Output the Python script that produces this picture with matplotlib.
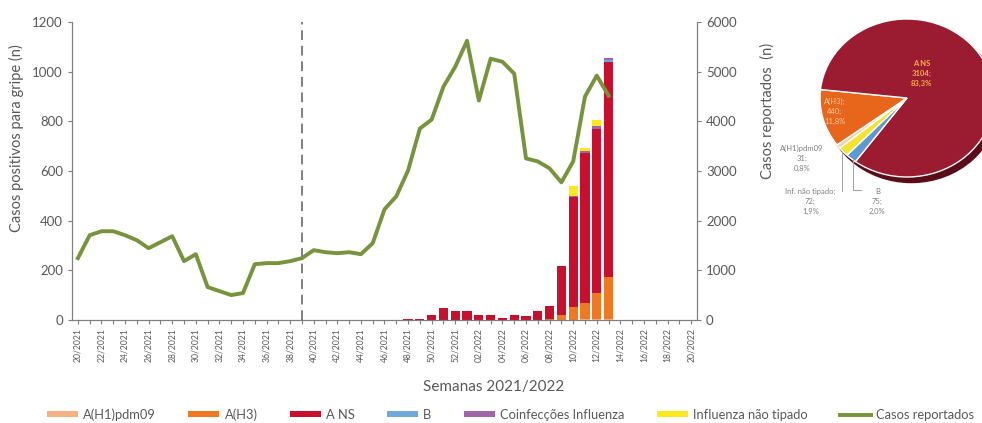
import matplotlib
matplotlib.use('Agg')
import matplotlib.pyplot as plt
from matplotlib.patches import Patch, Ellipse
from matplotlib.lines import Line2D
import numpy as np

plt.rcParams['font.family'] = ['Lato', 'DejaVu Sans']

# semanas 20/2021 .. 20/2022
semanas = ['%02d/2021' % w for w in range(20, 53)] + ['%02d/2022' % w for w in range(1, 21)]

# casos reportados (eixo da direita), ate 13/2022
casos = [1245, 1707, 1787, 1787, 1707, 1606, 1446, 1566, 1687, 1185,
         1325, 663, 582, 502, 542, 1124, 1145, 1145, 1185, 1245,
         1406, 1365, 1345, 1365, 1325, 1546, 2229, 2490, 3012, 3855,
         4036, 4699, 5100, 5622, 4418, 5261, 5200, 4960, 3253, 3193,
         3052, 2771, 3193, 4498, 4920, 4518]

n = len(semanas)
z = [0] * n

h1 = list(z)
h1[42:46] = [2, 3, 3, 5]
h3 = list(z)
h3[39:46] = [2, 3, 21, 52, 67, 104, 170]
ans = list(z)
ans[26:46] = [1, 2, 3, 5, 20, 50, 37, 37, 20, 20, 10, 19, 15, 35, 54, 195, 440, 604, 664, 863]
b = list(z)
b[45] = 10
coinf = list(z)
coinf[42:46] = [4, 5, 10, 6]
inf_nt = list(z)
inf_nt[41:45] = [1, 43, 15, 23]

series = [
    ('A(H1)pdm09', h1, '#F4B183'),
    ('A(H3)', h3, '#F07820'),
    ('A NS', ans, '#C8102E'),
    ('B', b, '#6FA8DC'),
    ('Coinfecções Influenza', coinf, '#A064A8'),
    ('Influenza não tipado', inf_nt, '#FFE81A'),
]

# pie
pie_vals = [31, 440, 3104, 75, 72]
pie_cols = ['#F8CBAD', '#E8661C', '#9B1B30', '#5B9BD5', '#F2E530']
pie_txt = ['A(H1)pdm09\n31;\n0,8%', 'A(H3);\n440;\n11,8%', 'A NS\n3104;\n83,3%',
           'B\n75;\n2,0%', 'Inf. não tipado;\n72;\n1,9%']

W, H = 982, 423
fig = plt.figure(figsize=(W / 100, H / 100), dpi=100)
ax = fig.add_axes([72 / W, 1 - 320 / H, 625 / W, 298 / H])
ax2 = ax.twinx()

x = np.arange(n)
bottom = np.zeros(n)
for name, vals, col in series:
    ax.bar(x, vals, width=0.78, bottom=bottom, color=col, zorder=2)
    bottom += np.array(vals)

ax2.plot(np.arange(len(casos)), casos, color='#77933C', lw=2.8, zorder=3, solid_joinstyle='round')
ax.axvline(19, color='#7F7F7F', lw=1.4, ls=(0, (5, 3)), zorder=1)

ax.set_xlim(-0.5, n - 0.5)
ax.set_ylim(0, 1200)
ax2.set_ylim(0, 6000)
ax.set_yticks(range(0, 1201, 200))
ax2.set_yticks(range(0, 6001, 1000))
ax.set_xticks(x)
ax.set_xticklabels([s if i % 2 == 0 else '' for i, s in enumerate(semanas)],
                   rotation=90, color='#595959')

gray = '#7F7F7F'
for a in (ax, ax2):
    a.spines['top'].set_visible(False)
    for s in ('left', 'right', 'bottom'):
        a.spines[s].set_color(gray)
    a.tick_params(colors=gray, labelcolor='#595959', labelsize=9.5, length=3)
ax2.set_zorder(ax.get_zorder() + 1)
ax2.patch.set_visible(False)
ax.tick_params(axis='x', length=3, pad=3, labelsize=6.2)

ax.set_ylabel('Casos positivos para gripe (n)', fontsize=10.5, color='#595959')
ax.yaxis.set_label_coords(-0.076, 0.61)
ax2.set_ylabel('Casos reportados  (n)', fontsize=10.5, color='#595959')
ax2.yaxis.set_label_coords(1.10, 0.70)
ax.set_xlabel('Semanas 2021/2022', fontsize=11, color='#595959')
ax.xaxis.set_label_coords(0.674, -0.20)

# legend
handles = [Patch(facecolor=c, label=nm) for nm, v, c in series]
handles.append(Line2D([], [], color='#77933C', lw=2.8, label='Casos reportados'))
leg = fig.legend(handles=handles, loc='center', bbox_to_anchor=(0.52, 0.02), ncol=7,
                 frameon=False, fontsize=9.3, handlelength=2.4, handleheight=0.4,
                 columnspacing=2.5, handletextpad=0.4)
for t in leg.get_texts():
    t.set_color('#595959')

# pie (3D look)
cx, cy, rx, ry = 907, 98, 87, 79
axp = fig.add_axes([(cx - rx * 1.1) / W, 1 - (cy + ry * 1.1) / H, rx * 2.2 / W, ry * 2.2 / H])
axp.add_patch(Ellipse((0.05, -0.07), 2, 2, color='#5A0C18', zorder=0))
axp.pie(pie_vals, colors=pie_cols, startangle=219.4, counterclock=False,
        wedgeprops=dict(edgecolor='white', linewidth=1))
axp.set_aspect('auto')
axp.set_xlim(-1.1, 1.1)
axp.set_ylim(-1.1, 1.1)
axp.axis('off')

axp.text(0.17, 0.31, pie_txt[2], color='#F5B041', fontsize=5.5, ha='center', va='center',
         fontweight='bold', linespacing=1.5)
axp.text(-0.83, -0.17, pie_txt[1], color='#F8CBAD', fontsize=5.5, ha='center', va='center',
         linespacing=1.5)
axp.text(-1.21, -0.76, pie_txt[0], color=gray, fontsize=5.5, ha='center', va='center',
         linespacing=1.5, clip_on=False)
axp.text(-1.11, -1.31, pie_txt[4], color=gray, fontsize=5.5, ha='center', va='center',
         linespacing=1.5, clip_on=False)
axp.text(-0.34, -1.31, pie_txt[3], color=gray, fontsize=5.5, ha='center', va='center',
         linespacing=1.5, clip_on=False)
axp.plot([-0.75, -0.75], [-0.68, -1.18], color='#A6A6A6', lw=0.8, clip_on=False)
axp.plot([-0.62, -0.62, -0.53], [-0.78, -1.16, -1.16], color='#A6A6A6', lw=0.8, clip_on=False)

fig.savefig('out.png', dpi=100)
